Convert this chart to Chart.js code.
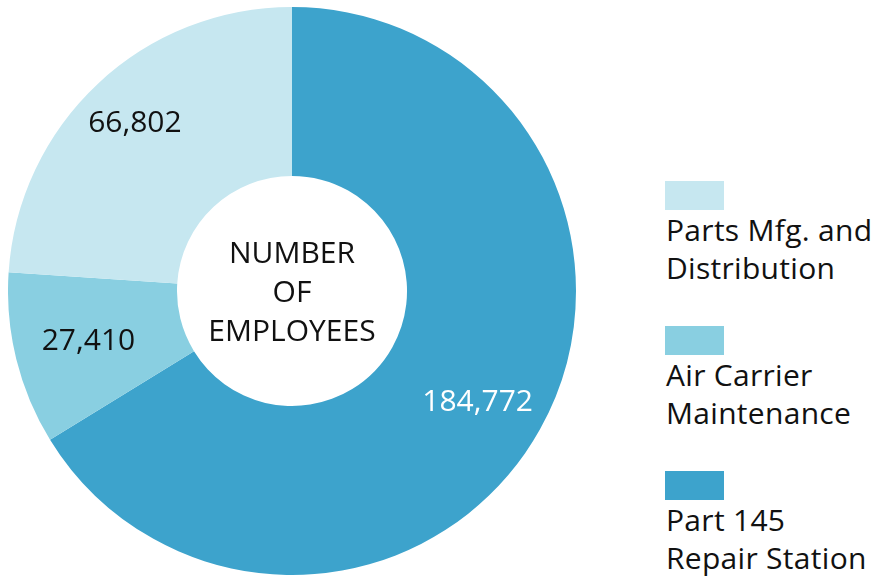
<!DOCTYPE html>
<html>
<head>
<meta charset="utf-8">
<script src="https://cdn.jsdelivr.net/npm/chart.js@4"></script>
<style>
  body { margin: 0; background: #fff; width: 881px; height: 577px; overflow: hidden; position: relative; font-family: "Open Sans", "Noto Sans", sans-serif; }
  #wrap { position: absolute; left: 8px; top: 7px; width: 568px; height: 568px; }
  #legend { position: absolute; left: 665px; top: 181px; }
  .item { position: relative; height: 145px; }
  .sw { width: 59px; height: 29px; }
  .txt { font-size: 30px; line-height: 38px; color: #111; margin-top: 1px; margin-left: 1px; white-space: nowrap; letter-spacing: 0.3px; }
</style>
</head>
<body>
<div id="wrap"><canvas id="donut"></canvas></div>
<div id="legend"></div>
<script>
// donnees du graphique
var categories = ['Part 145 Repair Station', 'Air Carrier Maintenance', 'Parts Mfg. and Distribution'];
var legendLines = [['Part 145', 'Repair Station'], ['Air Carrier', 'Maintenance'], ['Parts Mfg. and', 'Distribution']];
var employees = [184772, 27410, 66802];
var colors = ['#3da3cc', '#89cfe1', '#c6e7f0'];
var labelColors = ['#ffffff', '#111111', '#111111'];
var labelRadius = [0.6, 0.56, 0.68];
var centerLines = ['NUMBER', 'OF', 'EMPLOYEES'];

/**************************************************/
// plugin pour les valeurs et le texte du centre
var labelsPlugin = {
    id: 'labelsPlugin',
    afterDatasetsDraw: function(chart){
        var ctx = chart.ctx;
        var meta = chart.getDatasetMeta(0);
        ctx.save();
        ctx.textAlign = 'center';
        ctx.textBaseline = 'middle';
        ctx.font = '30px "Open Sans", sans-serif';
        meta.data.forEach(function(arc, i){
            var mid = (arc.startAngle + arc.endAngle) / 2 + (i == 0 ? 0.03 : 0);
            var r = arc.innerRadius + (arc.outerRadius - arc.innerRadius) * labelRadius[i];
            var x = arc.x + Math.cos(mid) * r;
            var y = arc.y + Math.sin(mid) * r;
            ctx.fillStyle = labelColors[i];
            ctx.fillText(employees[i].toLocaleString('en-US'), x, y);
        });
        var a = meta.data[0];
        ctx.fillStyle = '#111';
        ctx.font = '30px "Open Sans", sans-serif';
        centerLines.forEach(function(t, j){
            ctx.fillText(t, a.x, a.y + 2 + (j - 1) * 39);
        });
        ctx.restore();
    }
};

/**************************************************/
var ctx = document.getElementById('donut').getContext('2d');
var myChart = new Chart(ctx, {
    type: 'doughnut',
    data: {
        labels: categories,
        datasets: [{
            data: employees,
            backgroundColor: colors,
            borderWidth: 0
        }]
    },
    options: {
        responsive: true,
        maintainAspectRatio: false,
        animation: false,
        cutout: '40.5%',
        layout: { padding: 0 },
        plugins: {
            legend: { display: false },
            tooltip: { enabled: false }
        }
    },
    plugins: [labelsPlugin]
});

/**************************************************/
// legende a droite (ordre inverse)
var leg = document.getElementById('legend');
for(var i = categories.length - 1; i >= 0; i--){
    var d = document.createElement('div');
    d.className = 'item';
    var s = document.createElement('div');
    s.className = 'sw';
    s.style.background = colors[i];
    var t = document.createElement('div');
    t.className = 'txt';
    t.innerHTML = legendLines[i].join('<br>');
    d.appendChild(s);
    d.appendChild(t);
    leg.appendChild(d);
}
</script>
</body>
</html>
